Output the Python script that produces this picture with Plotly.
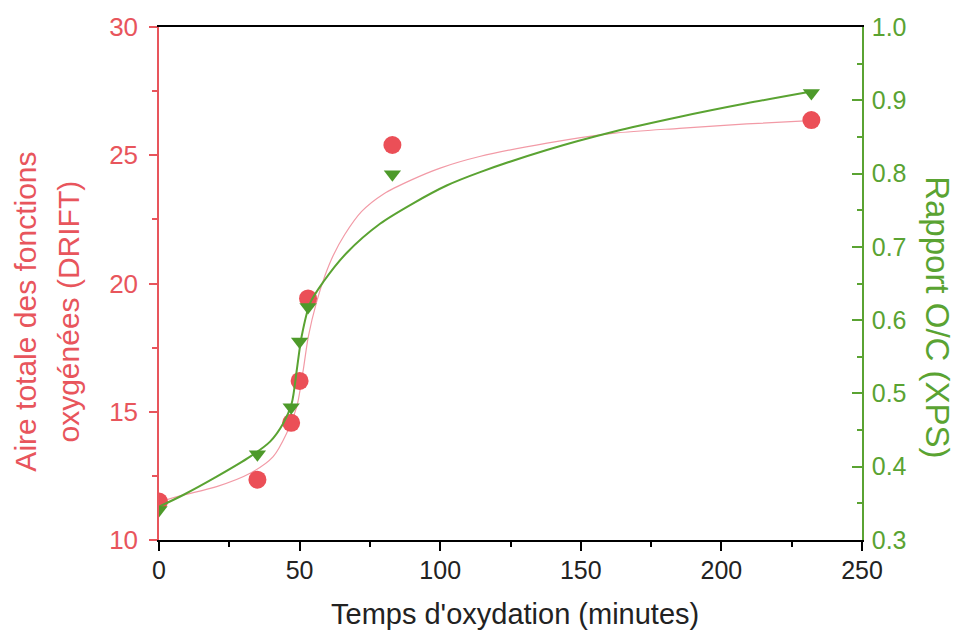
import plotly.graph_objects as go

# Measured points
time_min = [0, 35, 47, 50, 53, 83, 232]
drift_area = [11.5, 12.35, 14.57, 16.2, 19.42, 25.4, 26.37]
oc_ratio = [0.341, 0.417, 0.481, 0.571, 0.618, 0.799, 0.910]

# Fitted curves
drift_fit_x = [0, 8.6, 20.5, 32.4, 40.6, 45.4, 49.0, 51.3, 53.1, 56.1, 59, 62, 66,
               72, 80, 90, 100, 114, 138, 162, 185, 209, 231.5]
drift_fit_y = [11.49, 11.75, 12.08, 12.60, 13.25, 14.16, 15.20, 16.63, 17.93, 19.3, 20.3, 21.1, 21.9,
               22.8, 23.5, 24.05, 24.5, 24.95, 25.47, 25.86, 26.05, 26.22, 26.35]
oc_fit_x = [0, 8.6, 20.5, 32.4, 39.5, 44.2, 47.2, 49.0, 50.7, 53.7, 58.4, 66.8,
            78.6, 90.4, 102.3, 114.2, 137.9, 161.6, 185.3, 209.0, 231.5]
oc_fit_y = [0.3455, 0.3614, 0.3864, 0.4137, 0.4342, 0.4593, 0.4866, 0.532, 0.5774, 0.623, 0.652, 0.692,
            0.7315, 0.7594, 0.7837, 0.802, 0.8322, 0.8571, 0.8776, 0.8959, 0.9117]

x_ticks = [0, 50, 100, 150, 200, 250]
left_ticks = [10, 15, 20, 25, 30]
right_ticks = [0.3, 0.4, 0.5, 0.6, 0.7, 0.8, 0.9, 1.0]

RED = "#e8555c"
RED_MK = "#eb4f57"
PINK = "#f29aa6"
GREEN = "#5aa332"
GREEN_MK = "#4d9a2a"
FONT = "Liberation Sans, Arial, sans-serif"

fig = go.Figure()
fig.add_trace(go.Scatter(x=drift_fit_x, y=drift_fit_y, mode="lines",
                         line=dict(color=PINK, width=1.2, shape="spline", smoothing=0.8),
                         yaxis="y", showlegend=False, hoverinfo="skip"))
fig.add_trace(go.Scatter(x=time_min, y=drift_area, mode="markers",
                         marker=dict(symbol="circle", size=18, color=RED_MK),
                         yaxis="y", showlegend=False))
fig.add_trace(go.Scatter(x=oc_fit_x, y=oc_fit_y, mode="lines",
                         line=dict(color=GREEN, width=2, shape="spline", smoothing=0.8),
                         yaxis="y2", showlegend=False, hoverinfo="skip"))
fig.add_trace(go.Scatter(x=time_min, y=oc_ratio, mode="markers",
                         marker=dict(symbol="triangle-down", size=15, color=GREEN_MK),
                         yaxis="y2", showlegend=False))

fig.update_layout(
    width=951, height=623,
    margin=dict(l=151, r=97, t=19, b=91),
    paper_bgcolor="white", plot_bgcolor="white",
    font=dict(family=FONT, size=25, color="black"),
    xaxis=dict(range=[0, 250], tickvals=x_ticks, showgrid=False, zeroline=False, automargin=False,
               showline=True, linecolor="black", linewidth=2, mirror=True,
               ticks="outside", ticklen=9, tickwidth=1.5, tickcolor="black",
               minor=dict(dtick=25, ticks="outside", ticklen=5, tickcolor="black"),
               tickfont=dict(size=25, color="#222"), ticklabelstandoff=-2),
    yaxis=dict(range=[10, 30], tickvals=left_ticks, showgrid=False, zeroline=False, automargin=False,
               showline=True, linecolor=RED, linewidth=1.5,
               ticks="outside", ticklen=8, tickwidth=1.5, tickcolor=RED,
               minor=dict(dtick=2.5, ticks="outside", ticklen=5, tickcolor=RED),
               tickfont=dict(size=26, color=RED), ticklabelstandoff=6),
    yaxis2=dict(range=[0.3, 1.0], tickvals=right_ticks, tickformat=".1f", overlaying="y", side="right",
                showgrid=False, zeroline=False, automargin=False,
                showline=True, linecolor=GREEN, linewidth=1.5,
                ticks="inside", ticklen=10, tickwidth=1.5, tickcolor=GREEN,
                minor=dict(dtick=0.05, ticks="inside", ticklen=5, tickcolor=GREEN),
                tickfont=dict(size=25, color=GREEN), ticklabelstandoff=3),
    annotations=[
        dict(text="Temps d'oxydation (minutes)", xref="paper", yref="paper",
             x=0.506, y=-0.144, xanchor="center", yanchor="middle", showarrow=False,
             font=dict(size=29, color="#222", family=FONT)),
        dict(text="Aire totale des fonctions", xref="paper", yref="paper",
             x=-0.19, y=0.446, xanchor="center", yanchor="middle", textangle=-90, showarrow=False,
             font=dict(size=30, color=RED, family=FONT)),
        dict(text="oxygénées (DRIFT)", xref="paper", yref="paper",
             x=-0.129, y=0.446, xanchor="center", yanchor="middle", textangle=-90, showarrow=False,
             font=dict(size=30, color=RED, family=FONT)),
        dict(text="Rapport O/C (XPS)", xref="paper", yref="paper",
             x=1.107, y=0.434, xanchor="center", yanchor="middle", textangle=90, showarrow=False,
             font=dict(size=33, color=GREEN, family=FONT)),
    ],
)

fig.write_html("out.html")
